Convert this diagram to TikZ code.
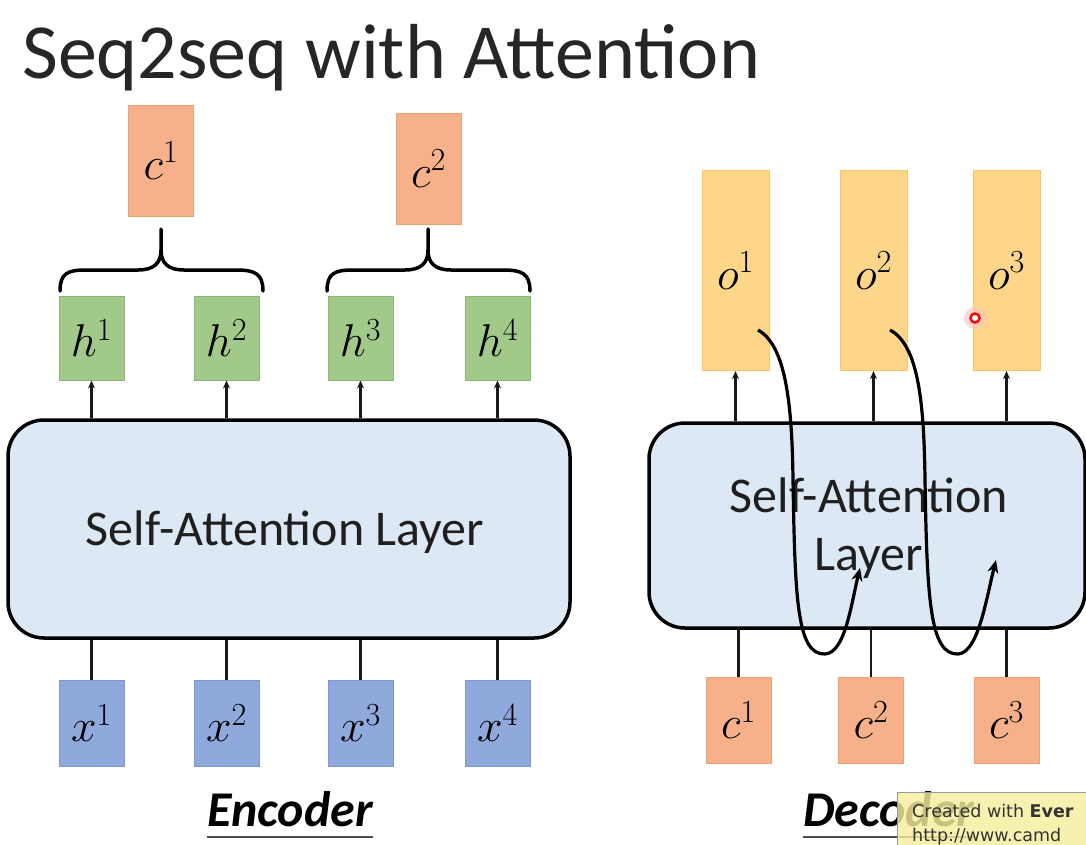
\RequirePackage{fix-cm}
\documentclass[tikz,border=0pt]{standalone}
\usepackage{fontspec}
\setmainfont{Carlito}
\newfontfamily\wmfont{DejaVu Sans}
\usetikzlibrary{arrows.meta}
\definecolor{corange}{HTML}{F6B18A}
\definecolor{corangeb}{HTML}{EFA173}
\definecolor{hgreen}{HTML}{A0C98A}
\definecolor{hgreenb}{HTML}{8CB874}
\definecolor{xblue}{HTML}{8FA9DC}
\definecolor{xblueb}{HTML}{7D98CE}
\definecolor{oyellow}{HTML}{FDD68A}
\definecolor{oyellowb}{HTML}{F7C868}
\definecolor{layerfill}{HTML}{DCE8F4}
\definecolor{wmyellow}{HTML}{F4EE9C}
\begin{document}
\begin{tikzpicture}[x=1pt,y=-1pt,
  vecbox/.style={rectangle,draw,line width=1pt,inner sep=0pt,minimum width=65pt,
    font=\fontsize{46}{46}\selectfont},
  cbox/.style={vecbox,fill=corange,draw=corangeb},
  hbox/.style={vecbox,fill=hgreen,draw=hgreenb,minimum height=84pt},
  xbox/.style={vecbox,fill=xblue,draw=xblueb,minimum height=86pt},
  obox/.style={vecbox,fill=oyellow,draw=oyellowb,minimum width=67pt,minimum height=200pt},
  layer/.style={rectangle,rounded corners=36pt,draw=black,line width=3.5pt,fill=layerfill,inner sep=0pt},
  layertext/.style={font=\fontsize{50}{58}\selectfont,text=black!88},
  conn/.style={line width=2.2pt,draw=black!90},
  arr/.style={conn,-{Stealth[length=8pt,width=7pt]}},
  brace/.style={line width=3.5pt,line cap=round,line join=round},
  loopcurve/.style={line width=3.2pt,-{Stealth[length=13pt,width=11pt]}},
  label/.style={font=\fontsize{50}{50}\selectfont\bfseries\itshape},
  ]
\useasboundingbox (0,0) rectangle (1086,844);

% title
\node[anchor=base west,inner sep=0pt,font=\fontsize{78}{78}\selectfont,text=black!85] (title) at (22,78) {Seq2seq with Attention};

% ===== Encoder =====
\node[layer,minimum width=562pt,minimum height=218pt] (enc) at (289,529) {};
\node[layertext,anchor=base] (enctext) at (285,545) {Self-Attention Layer};

\node[cbox,minimum height=111pt] (c1top) at (161,160.5) {$c^1$};
\node[cbox,minimum height=111pt] (c2top) at (428.5,168.5) {$c^2$};

\node[hbox] (h1) at (91.5,338) {$h^1$};
\node[hbox] (h2) at (226.5,338) {$h^2$};
\node[hbox] (h3) at (360.5,338) {$h^3$};
\node[hbox] (h4) at (497.5,338) {$h^4$};

\node[xbox] (x1) at (91.5,723) {$x^1$};
\node[xbox] (x2) at (226.5,723) {$x^2$};
\node[xbox] (x3) at (360.5,723) {$x^3$};
\node[xbox] (x4) at (497.5,723) {$x^4$};

\foreach \i in {1,...,4}{
  \draw[arr] (enc.north -| h\i) -- (h\i.south);
  \draw[conn] (x\i.north) -- (x\i |- enc.south);
}

% braces
\coordinate (b1tip) at (161,229);
\draw[brace] (60,291) .. controls (60,273) and (68,270) .. (86,270) -- (138,270)
  .. controls (154,270) and (161,263) .. (161,250) -- (b1tip);
\draw[brace] (161,250) .. controls (161,263) and (168,270) .. (184,270) -- (236,270)
  .. controls (254,270) and (263,273) .. (263,291);
\coordinate (b2tip) at (428,229);
\draw[brace] (327,291) .. controls (327,273) and (335,270) .. (353,270) -- (405,270)
  .. controls (421,270) and (428,263) .. (428,250) -- (b2tip);
\draw[brace] (428,250) .. controls (428,263) and (435,270) .. (451,270) -- (503,270)
  .. controls (521,270) and (530,273) .. (530,291);

% ===== Decoder =====
\node[layer,minimum width=436pt,minimum height=205pt] (dec) at (867,525.5) {};
\node[layertext,align=center] (dectext) at (869,528.5) {Self-Attention\\Layer};

\node[obox] (o1) at (735.5,270.5) {$o^1$};
\node[obox] (o2) at (873.5,270.5) {$o^2$};
\node[obox] (o3) at (1006.5,270.5) {$o^3$};

\node[cbox,minimum height=86pt] (c1) at (738.5,720) {$c^1$};
\node[cbox,minimum height=86pt] (c2) at (871,720) {$c^2$};
\node[cbox,minimum height=86pt] (c3) at (1006.5,720) {$c^3$};

\draw[arr] (dec.north -| o1) -- (o1.south);
\draw[arr] (dec.north -| o2) -- (o2.south);
\draw[arr] (dec.north -| o3) -- (o3.south);
\draw[conn] (c1.north) -- (c1 |- dec.south);
\draw[conn] (c2.north) -- (c2 |- dec.south);
\draw[conn] (c3.north) -- (c3 |- dec.south);

% feedback curves
\coordinate (f1s) at (758,330);
\coordinate (f1e) at (860,568);
\coordinate (f2s) at (890,330);
\coordinate (f2e) at (996,560);
\draw[loopcurve] (f1s) .. controls (785,345) and (792,400) .. (793,480)
  .. controls (795,600) and (797,655) .. (825,654)
  .. controls (845,653) and (851,605) .. (f1e);
\draw[loopcurve] (f2s) .. controls (918,345) and (924,400) .. (925,480)
  .. controls (927,600) and (930,655) .. (958,654)
  .. controls (978,653) and (986,600) .. (f2e);

% cursor mark
\fill[red!25,opacity=0.6] (975,318) circle (11);
\draw[red,line width=2.4pt,fill=white] (975,318) circle (4.5);

% labels
\node[label,anchor=base,inner sep=0pt] (enclabel) at (290,826) {Encoder};
\draw[line width=2.2pt,draw=black!70] ([yshift=-11pt]enclabel.base west) -- ([yshift=-11pt]enclabel.base east);
\node[label,anchor=base west,inner sep=0pt] (declabel) at (803,826) {Decoder};
\draw[line width=2.2pt,draw=black!70] ([yshift=-11pt]declabel.base west) -- ([yshift=-11pt]declabel.base east);

% watermark
\node[anchor=north west,minimum width=195pt,minimum height=55pt,fill=wmyellow,fill opacity=0.82,draw=black!40,line width=0.8pt,inner sep=0pt] (wm) at (897,792) {};
\node[anchor=base west,inner sep=0pt,font=\wmfont\fontsize{17.5}{17.5}\selectfont,text=black!80] (wm1) at (912,817) {Created with \textbf{Ever}};
\node[anchor=base west,inner sep=0pt,font=\wmfont\fontsize{17.5}{17.5}\selectfont,text=black!80] (wm2) at (912,841) {http://www.camd};
\end{tikzpicture}
\end{document}
